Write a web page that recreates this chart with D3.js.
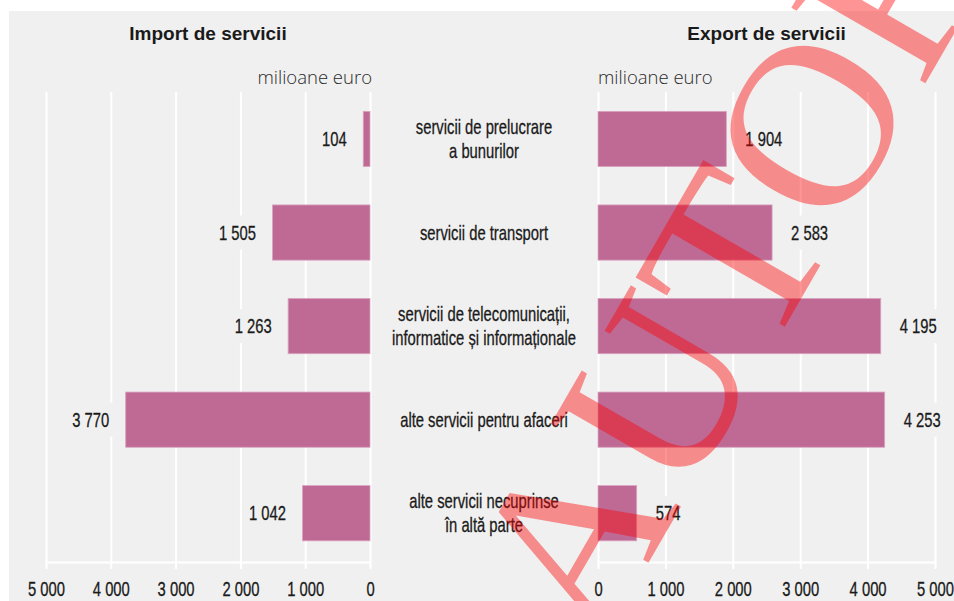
<!DOCTYPE html>
<html><head><meta charset="utf-8">
<script src="https://cdn.jsdelivr.net/npm/d3@7"></script>
<style>body{margin:0;background:#fff}svg{display:block}</style>
</head><body><svg id="c" width="954" height="601"></svg>
<script>
const categories = [
  ["servicii de prelucrare", "a bunurilor"],
  ["servicii de transport"],
  ["servicii de telecomunicații,", "informatice și informaționale"],
  ["alte servicii pentru afaceri"],
  ["alte servicii necuprinse", "în altă parte"]
];
const importValues = [104, 1505, 1263, 3770, 1042];
const exportValues = [1904, 2583, 4195, 4253, 574];
const tickValues = [0, 1000, 2000, 3000, 4000, 5000];
const panelTitles = ["Import de servicii", "Export de servicii"];
const unitLabel = "milioane euro";
const watermarkText = "AUTOR";

const sansFont = "'Liberation Sans',Arial,sans-serif";
const SX = 0.74;          // horizontal condensing for the narrow label font
const FS = 20;
const barColor = "#be6a95";
const bg = "#f0f0f0";
const ink = "#1a1a1a";

const svg = d3.select("#c");
svg.append("rect").attr("x", 9).attr("y", 11).attr("width", 945).attr("height", 590).attr("fill", bg);

const fmt = d3.formatLocale({decimal: ",", thousands: " ", grouping: [3], currency: ["", ""]}).format(",d");

const xL = d3.scaleLinear().domain([0, 5000]).range([370, 46]);
const xR = d3.scaleLinear().domain([0, 5000]).range([598, 935]);
const y = d3.scaleBand().domain(d3.range(categories.length)).range([92.2, 560]).paddingInner(0.41).paddingOuter(0.205);

function styleText(sel) {
  return sel.attr("fill", ink).attr("stroke", ink).attr("stroke-width", 0.3)
    .attr("font-family", sansFont).attr("font-size", FS);
}

function drawAxis(x) {
  const g = svg.append("g").attr("transform", "translate(0,569)")
    .call(d3.axisBottom(x).tickValues(tickValues).tickFormat(fmt).tickSizeInner(-477).tickSizeOuter(0).tickPadding(13));
  g.select(".domain").remove();
  g.selectAll(".tick line").attr("stroke", "#fff").attr("stroke-width", 2);
  styleText(g.selectAll(".tick text")).attr("transform", `scale(${SX},1)`);
  svg.append("line").attr("x1", d3.min(x.range())).attr("x2", d3.max(x.range()))
    .attr("y1", 562.5).attr("y2", 562.5).attr("stroke", "#fff").attr("stroke-width", 2);
}
drawAxis(xL);
drawAxis(xR);

// bars
svg.append("g").selectAll("rect").data(importValues).join("rect")
  .attr("x", d => xL(d)).attr("y", (d, i) => y(i)).attr("width", d => xL(0) - xL(d)).attr("height", y.bandwidth())
  .attr("fill", barColor).attr("stroke", "#d9a3bf").attr("stroke-width", 0.8);
svg.append("g").selectAll("rect").data(exportValues).join("rect")
  .attr("x", xR(0)).attr("y", (d, i) => y(i)).attr("width", d => xR(d) - xR(0)).attr("height", y.bandwidth())
  .attr("fill", barColor).attr("stroke", "#d9a3bf").attr("stroke-width", 0.8);

// value labels with background masks
function valueLabels(vals, xpos, anchor) {
  const g = svg.append("g");
  vals.forEach((v, i) => {
    const cy = y(i) + y.bandwidth() / 2;
    const bgRect = g.append("rect").attr("fill", bg);
    const tg = g.append("g").attr("transform", `translate(${xpos(v)},${cy + 7}) scale(${SX},1)`);
    const t = styleText(tg.append("text").attr("text-anchor", anchor)).text(fmt(v));
    const bb = t.node().getBBox();
    bgRect.attr("x", xpos(v) + bb.x * SX - 5).attr("y", cy - 17).attr("width", bb.width * SX + 10).attr("height", 34);
  });
}
valueLabels(importValues, v => xL(v) - 16.5, "end");
valueLabels(exportValues, v => xR(v) + 19, "start");

// category labels
const cx = (xL(0) + xR(0)) / 2;
categories.forEach((lines, i) => {
  const cy = y(i) + y.bandwidth() / 2;
  const lh = 24.5;
  const t = styleText(svg.append("g").attr("transform", `translate(${cx},0) scale(${SX},1)`)
    .append("text").attr("text-anchor", "middle"));
  lines.forEach((ln, j) => {
    t.append("tspan").attr("x", 0).attr("y", cy + 7 + (j - (lines.length - 1) / 2) * lh).text(ln);
  });
});

// titles
[xL, xR].forEach((x, k) => {
  svg.append("text").attr("x", (x.range()[0] + x.range()[1]) / 2).attr("y", 40).attr("text-anchor", "middle")
    .attr("font-family", sansFont).attr("font-weight", 700).attr("font-size", 19).attr("fill", ink).text(panelTitles[k]);
});

// unit labels
svg.append("text").attr("x", xL(0) + 2).attr("y", 84).attr("text-anchor", "end")
  .attr("font-family", "'Open Sans',sans-serif").attr("font-weight", 300).attr("font-size", 18.5).attr("fill", "#2a2a2a").text(unitLabel);
svg.append("text").attr("x", xR(0)).attr("y", 84).attr("text-anchor", "start")
  .attr("font-family", "'Open Sans',sans-serif").attr("font-weight", 300).attr("font-size", 18.5).attr("fill", "#2a2a2a").text(unitLabel);

// watermark
svg.append("text").attr("transform", "translate(597,652) rotate(-60)")
  .attr("font-family", "'Liberation Serif','DejaVu Serif',serif").attr("font-size", 235)
  .attr("fill", "#ff0000").attr("fill-opacity", 0.42).text(watermarkText);
</script>
</body></html>
